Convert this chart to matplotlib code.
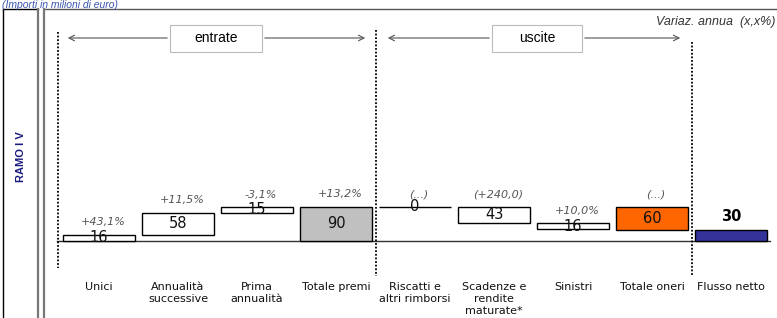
import matplotlib
matplotlib.use("Agg")
import matplotlib.pyplot as plt
from matplotlib.patches import Rectangle

# dati (milioni di euro)
categories = ["Unici", "Annualità\nsuccessive", "Prima\nannualità", "Totale premi",
              "Riscatti e\naltri rimborsi", "Scadenze e\nrendite\nmaturate*", "Sinistri",
              "Totale oneri", "Flusso netto"]
values = [16, 58, 15, 90, 0, 43, 16, 60, 30]
kinds = ["in", "in", "in", "tot_in", "out", "out", "out", "tot_out", "net"]
changes = ["+43,1%", "+11,5%", "-3,1%", "+13,2%", "(...)", "(+240,0)", "+10,0%", "(...)", ""]

colors = {"in": "white", "tot_in": "#C0C0C0", "out": "white", "tot_out": "#FF6600", "net": "#333399"}

# waterfall bottoms
bottoms = []
run = 0
tot_in = 0
for v, k in zip(values, kinds):
    if k == "in":
        bottoms.append(run)
        run += v
    elif k == "tot_in":
        bottoms.append(0)
        tot_in = v
        run = v
    elif k == "out":
        run -= v
        bottoms.append(run)
    elif k == "tot_out":
        bottoms.append(tot_in - v)
    else:
        bottoms.append(0)

# mapping pixel -> dati (solo per le decorazioni)
X0, DX, Y0, SY = 99, 79.0, 241, 0.381
W, H = 777, 318
def dx(p): return (p - X0) / DX
def dy(p): return (Y0 - p) / SY

fig = plt.figure(figsize=(W / 100, H / 100), dpi=100)
ax = fig.add_axes([0, 0, 1, 1])
ax.set_xlim(dx(0), dx(W))
ax.set_ylim(dy(H), dy(0))
ax.axis("off")

x = list(range(len(categories)))
ax.bar(x, values, bottom=bottoms, width=0.912, color=[colors[k] for k in kinds],
       edgecolor="black", linewidth=1, zorder=3)
ax.axhline(0, xmin=(dx(57) - dx(0)) / (dx(W) - dx(0)), xmax=(dx(770) - dx(0)) / (dx(W) - dx(0)),
           color="#333333", lw=1, zorder=2)

for i, (v, b, k, c) in enumerate(zip(values, bottoms, kinds, changes)):
    if k == "net":
        ax.annotate(str(v), (i, b + v), xytext=(0, 4), textcoords="offset points",
                    ha="center", va="bottom", fontsize=10.5, fontweight="bold", zorder=5)
    else:
        ax.text(i, b + v / 2, str(v), ha="center", va="center", fontsize=10.5, zorder=5,
                color="#111111")
    if c:
        ax.annotate(c, (i, b + v), xytext=(3, 9), textcoords="offset points",
                    ha="center", va="center", fontsize=8, style="italic", color="#555555", zorder=5)
    ax.text(i, dy(281.5), categories[i], ha="center", va="top", fontsize=8,
            linespacing=1.25, color="#111111")

# separatori tratteggiati
for xs, top, bot in [(-0.52, 32, 268), (3.5, 30, 276), (7.5, 42, 276)]:
    ax.plot([xs, xs], [dy(top), dy(bot)], color="black", ls=(0, (1, 1)), lw=1.3, zorder=4)

# frecce entrate / uscite
for label, left, bl, br, right in [("entrate", 65, 170, 262, 368), ("uscite", 385, 492, 582, 683)]:
    yy = dy(38)
    ax.annotate("", xy=(dx(left), yy), xytext=(dx(bl), yy),
                arrowprops=dict(arrowstyle="->", color="#555555", lw=0.8))
    ax.annotate("", xy=(dx(right), yy), xytext=(dx(br), yy),
                arrowprops=dict(arrowstyle="->", color="#555555", lw=0.8))
    ax.add_patch(Rectangle((dx(bl), dy(52)), dx(br) - dx(bl), dy(25) - dy(52),
                           facecolor="white", edgecolor="#BBBBBB", lw=0.8, zorder=4))
    ax.text(dx((bl + br) / 2), yy, label, ha="center", va="center", fontsize=10,
            family="Liberation Sans", zorder=5)

ax.text(dx(775), dy(22), "Variaz. annua  (x,x%)", ha="right", va="center", fontsize=9,
        style="italic", family="Liberation Sans", color="#333333")

# cornice
ft = fig.transFigure
def fx(p): return p / W
def fy(p): return 1 - p / H
fig.add_artist(plt.Line2D([fx(3), fx(3)], [fy(9), 0], color="black", lw=1, transform=ft))
fig.add_artist(plt.Line2D([fx(3), fx(37.5)], [fy(9), fy(9)], color="black", lw=1, transform=ft))
fig.add_artist(plt.Line2D([fx(43.5), 1], [fy(9), fy(9)], color="#555555", lw=1, transform=ft))
for xx in (37.5, 43.5):
    fig.add_artist(plt.Line2D([fx(xx), fx(xx)], [fy(9), 0], color="#777777", lw=1.6, transform=ft))

fig.text(fx(21), fy(157), "RAMO I V", rotation=90, ha="center", va="center", fontsize=8,
         fontweight="bold", family="Liberation Sans", color="#1A1A80")
fig.text(fx(2), fy(0.5), "(Importi in milioni di euro)", ha="left", va="top", fontsize=7.5,
         style="italic", family="Liberation Sans", color="#3A55B0")

fig.savefig("out.png", dpi=100)
